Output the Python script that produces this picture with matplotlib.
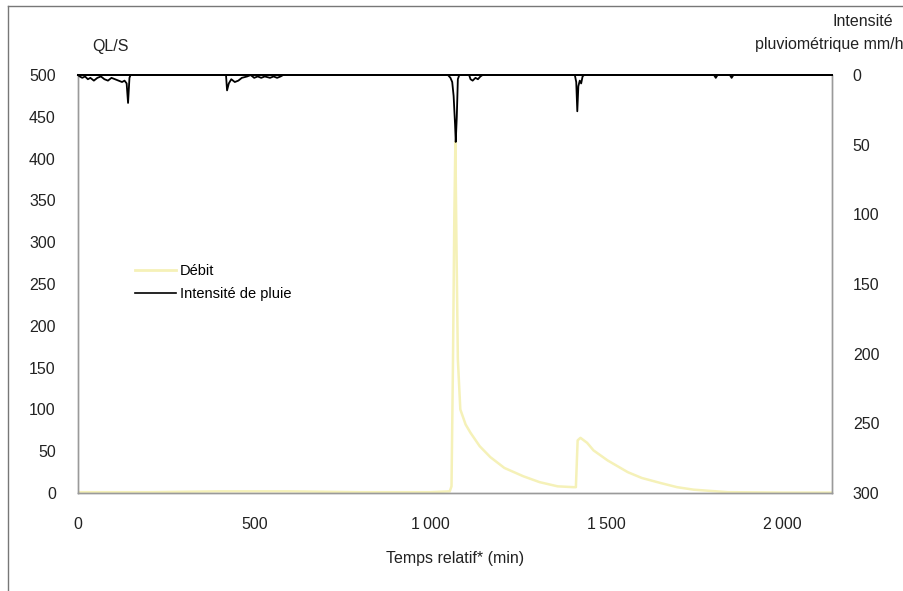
import matplotlib.pyplot as plt
from matplotlib.lines import Line2D

plt.rcParams['font.family'] = ['Liberation Sans', 'DejaVu Sans']

# Débit (L/s) over relative time (min)
debit_t = [0, 200, 400, 600, 800, 1000, 1055, 1060, 1064, 1068, 1071, 1074,
           1078, 1085, 1100, 1114, 1140, 1170, 1210, 1264, 1310, 1361, 1406,
           1413, 1418, 1426, 1445, 1463, 1503, 1560, 1600, 1653, 1700, 1747,
           1844, 2000, 2140]
debit_q = [1, 1, 2, 2, 1, 1, 2, 8, 150, 330, 420, 300,
           160, 100, 82, 72, 56, 43, 30, 20, 13, 8, 7,
           7, 63, 66, 60, 51, 39, 25, 18, 12, 7, 4,
           1, 0.5, 0.5]

# Rain intensity (mm/h)
pluie_t = [0, 5, 12, 20, 28, 35, 45, 55, 65, 75, 85, 95, 105, 115, 125, 132,
           138, 142, 146, 149, 420, 423, 428, 435, 445, 455, 465, 480, 490,
           500, 510, 520, 530, 545, 555, 565, 575, 582, 1050, 1057, 1062,
           1066, 1070, 1072, 1075, 1078, 1082, 1110, 1114, 1120, 1128, 1135,
           1142, 1148, 1410, 1414, 1417, 1420, 1424, 1428, 1432, 1436, 1805,
           1810, 1815, 1850, 1855, 1860, 2140]
pluie_i = [0, 1, 2, 1, 3, 2, 4, 2, 1, 3, 4, 2, 3, 4, 5, 4,
           6, 20, 2, 0, 0, 11, 6, 3, 5, 4, 2, 1, 0,
           2, 1, 2, 1, 2, 1, 2, 1, 0, 0, 2, 5,
           15, 35, 48, 30, 3, 0, 0, 3, 4, 2, 3,
           1, 0, 0, 5, 26, 8, 4, 6, 1, 0, 0,
           2, 0, 0, 2, 0, 0]

x_ticks = [0, 500, 1000, 1500, 2000]
x_labels = ['0', '500', '1\u2009000', '1\u2009500', '2\u2009000']

fig = plt.figure(figsize=(9.04, 5.91), dpi=100)
ax = fig.add_axes([0.0863, 0.1658, 0.8341, 0.7072])
ax2 = ax.twinx()

yellow = '#f5f1b8'
ax.plot(debit_t, debit_q, color=yellow, lw=1.8, zorder=2)
ax2.plot(pluie_t, pluie_i, color='black', lw=1.3, clip_on=False, zorder=3)

ax.set_xlim(0, 2140)
ax.set_ylim(0, 500)
ax2.set_ylim(300, 0)
ax.set_xticks(x_ticks, x_labels)
ax.set_yticks(range(0, 501, 50))
ax2.set_yticks(range(0, 301, 50))

for a in (ax, ax2):
    for s in a.spines.values():
        s.set_color('#9a9a9a')
        s.set_linewidth(1.0)
    a.spines['top'].set_color('black')
    a.spines['top'].set_linewidth(1.4)
ax.tick_params(axis='both', labelsize=11.5, colors='#222222')
ax.tick_params(axis='x', pad=17, length=0)
ax.tick_params(axis='y', pad=16, length=0)
ax2.tick_params(axis='y', labelsize=11.5, pad=15, length=0, colors='#222222')

ax.set_xlabel('Temps relatif* (min)', fontsize=11.5, labelpad=14, color='#222222')
fig.text(92 / 904, 1 - 47 / 591, 'QL/S', fontsize=11.5, va='center',
         color='#222222')
fig.text(893 / 904, 1 - 22 / 591, 'Intensité', fontsize=11.5, ha='right',
         va='center', color='#222222')
fig.text(904 / 904, 1 - 45 / 591, 'pluviométrique mm/h', fontsize=11.5,
         ha='right', va='center', color='#222222')

handles = [Line2D([], [], color=yellow, lw=2.0),
           Line2D([], [], color='black', lw=1.2)]
ax.legend(handles, ['Débit', 'Intensité de pluie'], loc='upper left',
          bbox_to_anchor=(0.058, 0.58), frameon=False, fontsize=10.5,
          handlelength=2.8, handletextpad=0.3, labelspacing=0.65)

# outer frame of the figure
fig.add_artist(Line2D([8 / 904, 8 / 904], [0, 1 - 6 / 591], color='#777777',
                      lw=1.0, transform=fig.transFigure))
fig.add_artist(Line2D([8 / 904, 1], [1 - 6 / 591, 1 - 6 / 591],
                      color='#777777', lw=1.0, transform=fig.transFigure))

fig.savefig('out.png', dpi=100)
